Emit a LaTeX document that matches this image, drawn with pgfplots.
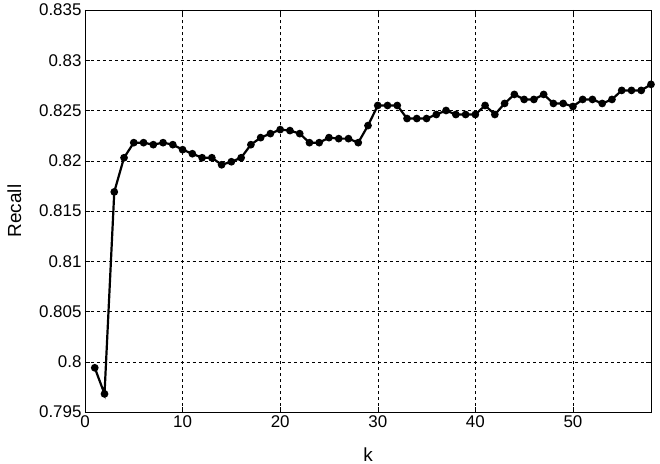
\documentclass[border=0pt]{standalone}
\usepackage{fontspec}
\setmainfont{Liberation Sans}
\usepackage{pgfplots}
\pgfplotsset{compat=1.18}

\begin{document}
\begin{tikzpicture}[x=1bp,y=1bp]
\useasboundingbox (-85bp,-52bp) rectangle (575bp,412bp);
\begin{axis}[
  at={(0,0)}, anchor=south west,
  scale only axis, width=566bp, height=402bp,
  xmin=0, xmax=58, ymin=0.795, ymax=0.835,
  xtick={0,10,20,30,40,50},
  ytick={0.795,0.8,0.805,0.81,0.815,0.82,0.825,0.83,0.835},
  yticklabel style={/pgf/number format/fixed, /pgf/number format/precision=3},
  /pgf/number format/assume math mode=true,
  tick label style={font=\fontsize{17}{19}\selectfont, black},
  tick align=inside, tick style={black, thin}, major tick length=5bp,
  grid=major, major grid style={black, dashed, thin},
  axis line style={black, thin},
  xlabel={k}, ylabel={Recall},
  label style={font=\fontsize{19}{21}\selectfont},
  xlabel style={at={(axis description cs:0.5,-0.106)}, anchor=center},
  ylabel style={at={(axis description cs:-0.125,0.5)}, anchor=center, rotate=0},
]
\addplot[black, line width=2.2bp, mark=*, mark size=2.7bp] coordinates {
(1,0.7994)(2,0.7968)(3,0.8169)(4,0.8203)(5,0.8218)(6,0.8218)(7,0.8216)(8,0.8218)(9,0.8216)(10,0.8211)
(11,0.8207)(12,0.8203)(13,0.8203)(14,0.8196)(15,0.8199)(16,0.8203)(17,0.8216)(18,0.8223)(19,0.8227)(20,0.8231)
(21,0.8230)(22,0.8227)(23,0.8218)(24,0.8218)(25,0.8223)(26,0.8222)(27,0.8222)(28,0.8218)(29,0.8235)(30,0.8255)
(31,0.8255)(32,0.8255)(33,0.8242)(34,0.8242)(35,0.8242)(36,0.8246)(37,0.8250)(38,0.8246)(39,0.8246)(40,0.8246)
(41,0.8255)(42,0.8246)(43,0.8257)(44,0.8266)(45,0.8261)(46,0.8261)(47,0.8266)(48,0.8257)(49,0.8257)(50,0.8254)
(51,0.8261)(52,0.8261)(53,0.8257)(54,0.8261)(55,0.8270)(56,0.8270)(57,0.8270)(58,0.8276)
};
\end{axis}
\end{tikzpicture}
\end{document}
